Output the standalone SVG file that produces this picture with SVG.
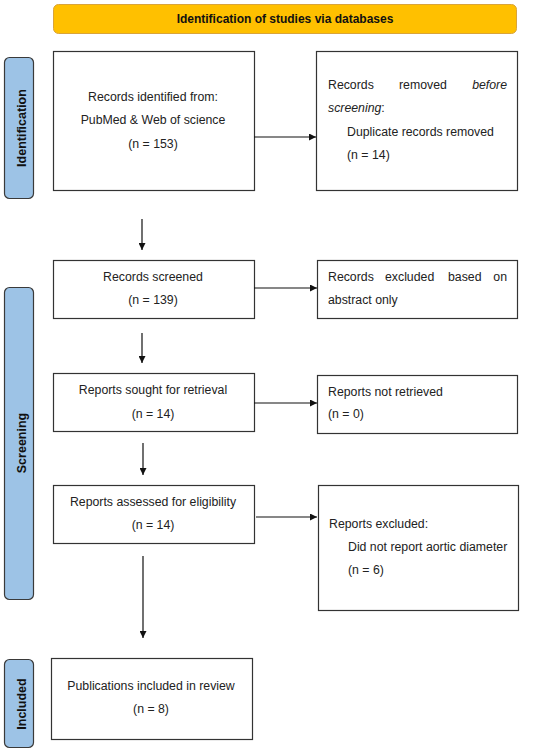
<svg xmlns="http://www.w3.org/2000/svg" width="550" height="751" viewBox="0 0 550 751">
<style>
.box{fill:#fff;stroke:#333;stroke-width:1.2}
.bar{fill:#9dc3e6;stroke:#3a3a3a;stroke-width:1.2}
.t{font-family:"Liberation Sans",Arial,sans-serif;font-size:12.3px;fill:#222}
.c{text-anchor:middle}
.bt{font-family:"Liberation Sans",Arial,sans-serif;font-size:12.5px;font-weight:bold;fill:#111;text-anchor:middle}
.ln{stroke:#111;stroke-width:1.2;fill:none;marker-end:url(#ah)}
</style>
<defs>
<marker id="ah" viewBox="0 0 10 10" refX="10" refY="5" markerWidth="7" markerHeight="7" markerUnits="userSpaceOnUse" orient="auto">
<path d="M0,0 L10,5 L0,10 z" fill="#111"/>
</marker>
</defs>
<rect width="550" height="751" fill="#fff"/>
<g id="banner">
<rect x="53.5" y="4.5" width="463" height="29" rx="5" fill="#ffc000" stroke="#d9a43a" stroke-width="1"/>
<text class="bt" x="285" y="23" style="font-size:12px">Identification of studies via databases</text>
</g>
<g id="stage-identification">
<rect class="bar" x="4.5" y="57.5" width="29" height="141" rx="5"/>
<text class="bt" transform="translate(26,128) rotate(-90)">Identification</text>
</g>
<g id="stage-screening">
<rect class="bar" x="4.5" y="287.5" width="29" height="312" rx="5"/>
<text class="bt" transform="translate(26,443) rotate(-90)">Screening</text>
</g>
<g id="stage-included">
<rect class="bar" x="4.5" y="659.5" width="29" height="88" rx="5"/>
<text class="bt" transform="translate(26,704) rotate(-90)">Included</text>
</g>
<g id="records-identified">
<rect class="box" x="53.5" y="51.5" width="201" height="139"/>
<text class="t c" x="153" y="101">Records identified from:</text>
<text class="t c" x="153" y="124">PubMed &amp; Web of science</text>
<text class="t c" x="153" y="148">(n = 153)</text>
</g>
<g id="records-removed">
<rect class="box" x="316.5" y="51.5" width="201" height="139"/>
<text class="t" x="328" y="89">Records</text>
<text class="t" x="399" y="89">removed</text>
<text class="t" x="507" y="89" text-anchor="end" font-style="italic">before</text>
<text class="t" x="328" y="112"><tspan font-style="italic">screening</tspan>:</text>
<text class="t" x="347" y="136">Duplicate records removed</text>
<text class="t" x="347" y="159">(n = 14)</text>
</g>
<g id="records-screened">
<rect class="box" x="53.5" y="260.5" width="201" height="58"/>
<text class="t c" x="153" y="281">Records screened</text>
<text class="t c" x="153" y="304">(n = 139)</text>
</g>
<g id="records-excluded">
<rect class="box" x="317.5" y="260.5" width="200" height="58"/>
<text class="t" x="328" y="281">Records</text>
<text class="t" x="385" y="281">excluded</text>
<text class="t" x="448" y="281">based</text>
<text class="t" x="507" y="281" text-anchor="end">on</text>
<text class="t" x="328" y="304">abstract only</text>
</g>
<g id="reports-sought">
<rect class="box" x="53.5" y="373.5" width="201" height="58"/>
<text class="t c" x="153" y="394">Reports sought for retrieval</text>
<text class="t c" x="153" y="418">(n = 14)</text>
</g>
<g id="reports-not-retrieved">
<rect class="box" x="317.5" y="375.5" width="200" height="58"/>
<text class="t" x="328" y="396">Reports not retrieved</text>
<text class="t" x="328" y="418">(n = 0)</text>
</g>
<g id="reports-assessed">
<rect class="box" x="53.5" y="485.5" width="201" height="58"/>
<text class="t c" x="153" y="506">Reports assessed for eligibility</text>
<text class="t c" x="153" y="529">(n = 14)</text>
</g>
<g id="reports-excluded">
<rect class="box" x="318.5" y="485.5" width="200" height="125"/>
<text class="t" x="329" y="528">Reports excluded:</text>
<text class="t" x="348" y="551">Did not report aortic diameter</text>
<text class="t" x="348" y="574">(n = 6)</text>
</g>
<g id="publications-included">
<rect class="box" x="51.5" y="658.5" width="201" height="81"/>
<text class="t c" x="151" y="690">Publications included in review</text>
<text class="t c" x="151" y="713">(n = 8)</text>
</g>
<g id="connectors">
<line class="ln" x1="254" y1="137" x2="316" y2="137"/>
<line class="ln" x1="142" y1="219" x2="142" y2="250"/>
<line class="ln" x1="254" y1="288" x2="317" y2="288"/>
<line class="ln" x1="142" y1="333" x2="142" y2="363"/>
<line class="ln" x1="254" y1="403" x2="317" y2="403"/>
<line class="ln" x1="143" y1="443" x2="143" y2="475"/>
<line class="ln" x1="256" y1="517" x2="317" y2="517"/>
<line class="ln" x1="143" y1="556" x2="143" y2="638"/>
</g>
</svg>
